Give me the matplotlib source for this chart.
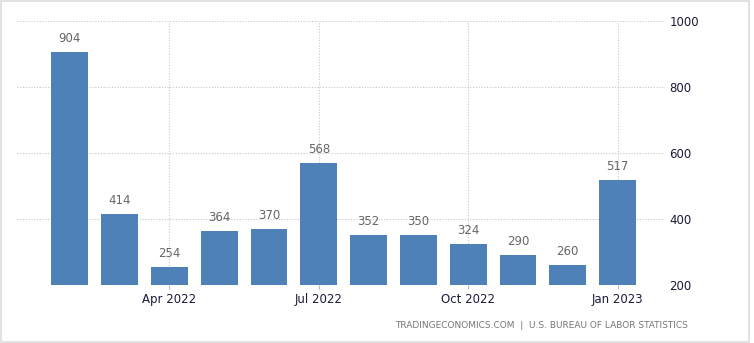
import numpy as np
import matplotlib.pyplot as plt
from matplotlib.patches import Rectangle

# Data
months = ['Feb 2022', 'Mar 2022', 'Apr 2022', 'May 2022', 'Jun 2022', 'Jul 2022',
          'Aug 2022', 'Sep 2022', 'Oct 2022', 'Nov 2022', 'Dec 2022', 'Jan 2023']
values = [904, 414, 254, 364, 370, 568, 352, 350, 324, 290, 260, 517]
tick_labels = ['Apr 2022', 'Jul 2022', 'Oct 2022', 'Jan 2023']
y_ticks = [200, 400, 600, 800, 1000]

fig = plt.figure(figsize=(7.54, 3.43), dpi=100)
ax = fig.add_axes([0.0225, 0.169, 0.858, 0.771])

x = np.arange(len(months))
bars = ax.bar(x, values, width=0.74, color='#4f81b9', bottom=0, zorder=2)

for xi, v in zip(x, values):
    ax.text(xi, v + 22, str(v), ha='center', va='bottom', fontsize=8.5, color='#666666')

ax.set_ylim(200, 1000)
ax.set_xlim(-1.06, 11.93)

ax.yaxis.tick_right()
ax.set_yticks(y_ticks)
ax.set_yticklabels([str(t) for t in y_ticks], fontsize=8.5, color='#1a1a3a')
tick_pos = [months.index(t) for t in tick_labels]
ax.set_xticks(tick_pos)
ax.set_xticklabels(tick_labels, fontsize=8.5, color='#1a1a3a')
ax.tick_params(axis='y', length=0, pad=4)
ax.tick_params(axis='x', length=3, color='#bbbbbb', pad=3)

ax.grid(True, linestyle=(0, (1, 1.5)), color='#c8c8c8', linewidth=0.8, zorder=0)
for s in ax.spines.values():
    s.set_visible(False)

fig.text(0.913, 0.052, 'TRADINGECONOMICS.COM  |  U.S. BUREAU OF LABOR STATISTICS',
         ha='right', va='center', fontsize=6.5, color='#777777')

fig.patches.append(Rectangle((0.001, 0.004), 0.992, 0.994, transform=fig.transFigure,
                             fill=False, edgecolor='#dddddd', linewidth=1.2))

plt.savefig('out.png', dpi=100)
